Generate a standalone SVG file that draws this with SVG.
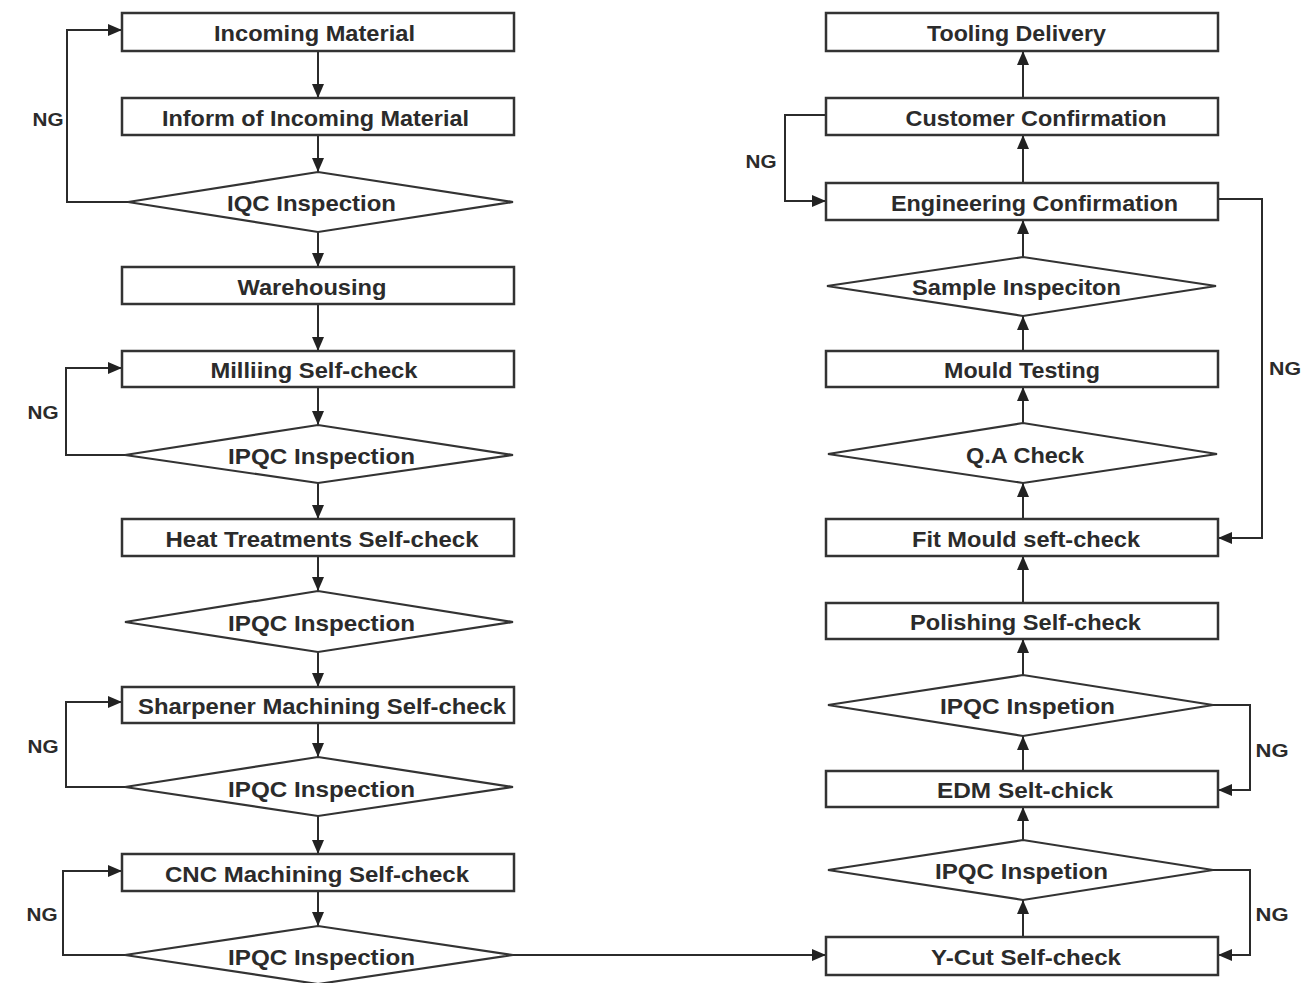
<svg xmlns="http://www.w3.org/2000/svg" width="1316" height="983" viewBox="0 0 1316 983">
<defs>
<style>
.box{fill:#fff;stroke:#333;stroke-width:2.5}
.dia{fill:#fff;stroke:#333;stroke-width:2.2}
.t{font-family:"Liberation Sans",Arial,sans-serif;font-size:22px;font-weight:bold;fill:#2b2b2b;text-anchor:middle}
.ng{font-family:"Liberation Sans",Arial,sans-serif;font-size:18px;font-weight:bold;fill:#2b2b2b;text-anchor:middle}
.c{fill:none;stroke:#2b2b2b;stroke-width:2;marker-end:url(#ah)}
</style>
<marker id="ah" markerUnits="userSpaceOnUse" markerWidth="14" markerHeight="12" refX="14" refY="6" orient="auto">
<path d="M0,0 L14,6 L0,12 z" fill="#222"/>
</marker>
</defs>
<rect width="1316" height="983" fill="#fff"/>

<g id="connectors">
<path class="c" d="M318,51 V98"/>
<path class="c" d="M318,135 V172"/>
<path class="c" d="M318,232 V267"/>
<path class="c" d="M318,304 V351"/>
<path class="c" d="M318,387 V425"/>
<path class="c" d="M318,483 V519"/>
<path class="c" d="M318,556 V591"/>
<path class="c" d="M318,652 V687"/>
<path class="c" d="M318,723 V757"/>
<path class="c" d="M318,816 V854"/>
<path class="c" d="M318,891 V926"/>
<path class="c" d="M128,202 H67 V30 H122"/>
<path class="c" d="M125,455 H66 V368 H122"/>
<path class="c" d="M125,787 H66 V702 H122"/>
<path class="c" d="M125,955 H63 V871 H122"/>
<path class="c" d="M513,955 H826"/>
<path class="c" d="M1023,98 V51"/>
<path class="c" d="M1023,183 V135"/>
<path class="c" d="M1023,257 V220"/>
<path class="c" d="M1023,351 V316"/>
<path class="c" d="M1023,423 V387"/>
<path class="c" d="M1023,519 V483"/>
<path class="c" d="M1023,603 V556"/>
<path class="c" d="M1023,675 V639"/>
<path class="c" d="M1023,771 V736"/>
<path class="c" d="M1023,840 V807"/>
<path class="c" d="M1023,937 V900"/>
<path class="c" d="M826,115 H785 V201 H826"/>
<path class="c" d="M1218,199 H1262 V538 H1218"/>
<path class="c" d="M1213,705 H1250 V790 H1218"/>
<path class="c" d="M1213,870 H1250 V955 H1218"/>
<text class="ng" x="48" y="126" textLength="31" lengthAdjust="spacingAndGlyphs">NG</text>
<text class="ng" x="43" y="419" textLength="31" lengthAdjust="spacingAndGlyphs">NG</text>
<text class="ng" x="43" y="753" textLength="31" lengthAdjust="spacingAndGlyphs">NG</text>
<text class="ng" x="42" y="921" textLength="31" lengthAdjust="spacingAndGlyphs">NG</text>
<text class="ng" x="761" y="168" textLength="31" lengthAdjust="spacingAndGlyphs">NG</text>
<text class="ng" x="1285" y="375" textLength="32" lengthAdjust="spacingAndGlyphs">NG</text>
<text class="ng" x="1272" y="757" textLength="33" lengthAdjust="spacingAndGlyphs">NG</text>
<text class="ng" x="1272" y="921" textLength="33" lengthAdjust="spacingAndGlyphs">NG</text>
</g>

<g id="n1"><rect class="box" x="122" y="13" width="392" height="38"/><text class="t" x="314.5" y="41" textLength="201" lengthAdjust="spacingAndGlyphs">Incoming Material</text></g>
<g id="n2"><rect class="box" x="122" y="98" width="392" height="37"/><text class="t" x="315.5" y="126" textLength="307" lengthAdjust="spacingAndGlyphs">Inform of Incoming Material</text></g>
<g id="n3"><polygon class="dia" points="128,202 318,172 513,202 318,232"/><text class="t" x="311.5" y="211" textLength="169" lengthAdjust="spacingAndGlyphs">IQC Inspection</text></g>
<g id="n4"><rect class="box" x="122" y="267" width="392" height="37"/><text class="t" x="312" y="294.5" textLength="149" lengthAdjust="spacingAndGlyphs">Warehousing</text></g>
<g id="n5"><rect class="box" x="122" y="351" width="392" height="36"/><text class="t" x="314" y="378" textLength="207" lengthAdjust="spacingAndGlyphs">Milliing Self-check</text></g>
<g id="n6"><polygon class="dia" points="125,455 318,425 513,455 318,483"/><text class="t" x="321.5" y="464" textLength="187" lengthAdjust="spacingAndGlyphs">IPQC Inspection</text></g>
<g id="n7"><rect class="box" x="122" y="519" width="392" height="37"/><text class="t" x="322" y="546.5" textLength="313" lengthAdjust="spacingAndGlyphs">Heat Treatments Self-check</text></g>
<g id="n8"><polygon class="dia" points="125,622 318,591 513,622 318,652"/><text class="t" x="321.5" y="631" textLength="187" lengthAdjust="spacingAndGlyphs">IPQC Inspection</text></g>
<g id="n9"><rect class="box" x="122" y="687" width="392" height="36"/><text class="t" x="322" y="714" textLength="368" lengthAdjust="spacingAndGlyphs">Sharpener Machining Self-check</text></g>
<g id="n10"><polygon class="dia" points="125,787 318,757 513,787 318,816"/><text class="t" x="321.5" y="797" textLength="187" lengthAdjust="spacingAndGlyphs">IPQC Inspection</text></g>
<g id="n11"><rect class="box" x="122" y="854" width="392" height="37"/><text class="t" x="317" y="881.5" textLength="304" lengthAdjust="spacingAndGlyphs">CNC Machining Self-check</text></g>
<g id="n12"><polygon class="dia" points="125,955 318,926 513,955 318,984"/><text class="t" x="321.5" y="965" textLength="187" lengthAdjust="spacingAndGlyphs">IPQC Inspection</text></g>

<g id="r1"><rect class="box" x="826" y="13" width="392" height="38"/><text class="t" x="1016.5" y="41" textLength="179" lengthAdjust="spacingAndGlyphs">Tooling Delivery</text></g>
<g id="r2"><rect class="box" x="826" y="98" width="392" height="37"/><text class="t" x="1036" y="126" textLength="261" lengthAdjust="spacingAndGlyphs">Customer Confirmation</text></g>
<g id="r3"><rect class="box" x="826" y="183" width="392" height="37"/><text class="t" x="1034.5" y="210.5" textLength="287" lengthAdjust="spacingAndGlyphs">Engineering Confirmation</text></g>
<g id="r4"><polygon class="dia" points="827,286 1023,257 1216,286 1023,316"/><text class="t" x="1016.5" y="295" textLength="209" lengthAdjust="spacingAndGlyphs">Sample Inspeciton</text></g>
<g id="r5"><rect class="box" x="826" y="351" width="392" height="36"/><text class="t" x="1022" y="378" textLength="156" lengthAdjust="spacingAndGlyphs">Mould Testing</text></g>
<g id="r6"><polygon class="dia" points="828,454 1023,423 1217,454 1023,483"/><text class="t" x="1025" y="463" textLength="118" lengthAdjust="spacingAndGlyphs">Q.A Check</text></g>
<g id="r7"><rect class="box" x="826" y="519" width="392" height="37"/><text class="t" x="1026" y="546.5" textLength="228" lengthAdjust="spacingAndGlyphs">Fit Mould seft-check</text></g>
<g id="r8"><rect class="box" x="826" y="603" width="392" height="36"/><text class="t" x="1025.5" y="630" textLength="231" lengthAdjust="spacingAndGlyphs">Polishing Self-check</text></g>
<g id="r9"><polygon class="dia" points="828,705 1023,675 1213,705 1023,736"/><text class="t" x="1027.5" y="714" textLength="175" lengthAdjust="spacingAndGlyphs">IPQC Inspetion</text></g>
<g id="r10"><rect class="box" x="826" y="771" width="392" height="36"/><text class="t" x="1025" y="798" textLength="176" lengthAdjust="spacingAndGlyphs">EDM Selt-chick</text></g>
<g id="r11"><polygon class="dia" points="828,870 1023,840 1213,870 1023,900"/><text class="t" x="1021.5" y="879" textLength="173" lengthAdjust="spacingAndGlyphs">IPQC Inspetion</text></g>
<g id="r12"><rect class="box" x="826" y="937" width="392" height="38"/><text class="t" x="1026" y="965" textLength="190" lengthAdjust="spacingAndGlyphs">Y-Cut Self-check</text></g>
</svg>
